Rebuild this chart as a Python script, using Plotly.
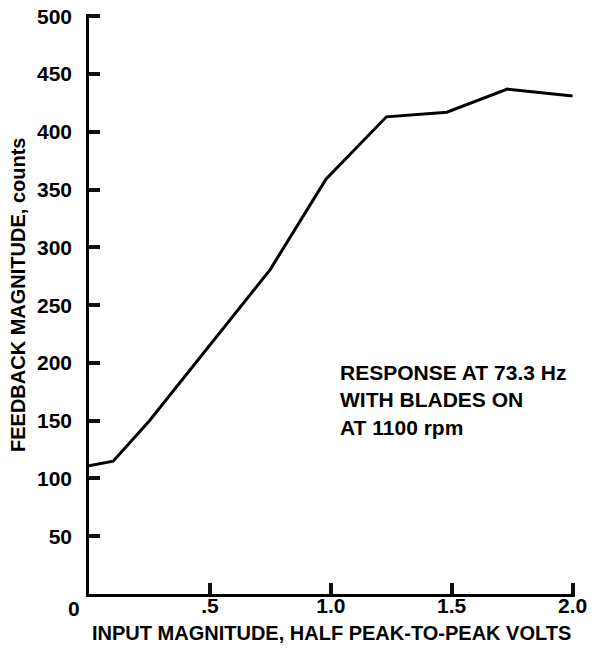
import plotly.graph_objects as go

# Data
input_volts = [0.0, 0.1, 0.25, 0.5, 0.75, 0.98, 1.23, 1.48, 1.73, 2.0]
feedback_counts = [111, 115, 150, 215, 281, 359, 413, 417, 437, 431]

x_tick_vals = [0.5, 1.0, 1.5, 2.0]
x_tick_text = [".5", "1.0", "1.5", "2.0"]
y_tick_vals = [50, 100, 150, 200, 250, 300, 350, 400, 450, 500]
y_tick_text = [str(v) for v in y_tick_vals]

note_lines = ["RESPONSE AT 73.3 Hz", "WITH BLADES ON", "AT 1100 rpm"]
x_title = "INPUT MAGNITUDE, HALF PEAK-TO-PEAK VOLTS"
y_title = "FEEDBACK MAGNITUDE, counts"

FONT = "Liberation Sans, Arial, sans-serif"
W, H = 595, 652
L, T = 89, 14
R, B = 20, 58
PW, PH = W - L - R, H - T - B

fig = go.Figure()
fig.add_trace(go.Scatter(
    x=input_volts, y=feedback_counts, mode="lines",
    line=dict(color="black", width=3), showlegend=False, hoverinfo="skip"))

axis_common = dict(ticks="inside", ticklen=11, tickwidth=4, tickcolor="#111111",
                   showline=True, linecolor="black", linewidth=2.5,
                   showgrid=False, zeroline=False, automargin=False,
                   ticklabeloverflow="allow",
                   tickfont=dict(size=21, family=FONT, weight="bold", color="black"))

fig.update_layout(
    template="none",
    width=W, height=H,
    margin=dict(l=L, r=R, t=T, b=B, autoexpand=False),
    paper_bgcolor="white", plot_bgcolor="white",
    font=dict(family=FONT, color="black"),
    xaxis=dict(range=[0, 2.01], tickvals=x_tick_vals, ticktext=x_tick_text,
               ticklabelstandoff=-9, **axis_common),
    yaxis=dict(range=[0, 502], tickvals=y_tick_vals, ticktext=y_tick_text,
               ticklabelstandoff=10, **axis_common),
)

# corner "0" label
fig.add_annotation(x=0, y=0, xref="x", yref="y", text="0", showarrow=False,
                   xanchor="center", yanchor="middle", xshift=-15, yshift=-14,
                   font=dict(size=21, family=FONT, weight="bold"))

# axis titles
fig.add_annotation(x=(331 - L) / PW, y=(H - B - 633) / PH, xref="paper", yref="paper",
                   text=x_title, showarrow=False, xanchor="center", yanchor="middle",
                   font=dict(size=20, family=FONT, weight="bold"))
fig.add_annotation(x=(18 - L) / PW, y=(H - B - 295) / PH,
                   xref="paper", yref="paper",
                   text=y_title, showarrow=False, textangle=-90,
                   xanchor="center", yanchor="middle",
                   font=dict(size=20, family=FONT, weight="bold"))

# note
fig.add_annotation(x=1.03, y=203, xref="x", yref="y",
                   text="<br>".join(note_lines), showarrow=False, align="left",
                   xanchor="left", yanchor="top",
                   font=dict(size=21, family=FONT, weight="bold"))

fig.write_html("out.html", config={"displayModeBar": False},
               post_script="document.body.style.margin='0';")
